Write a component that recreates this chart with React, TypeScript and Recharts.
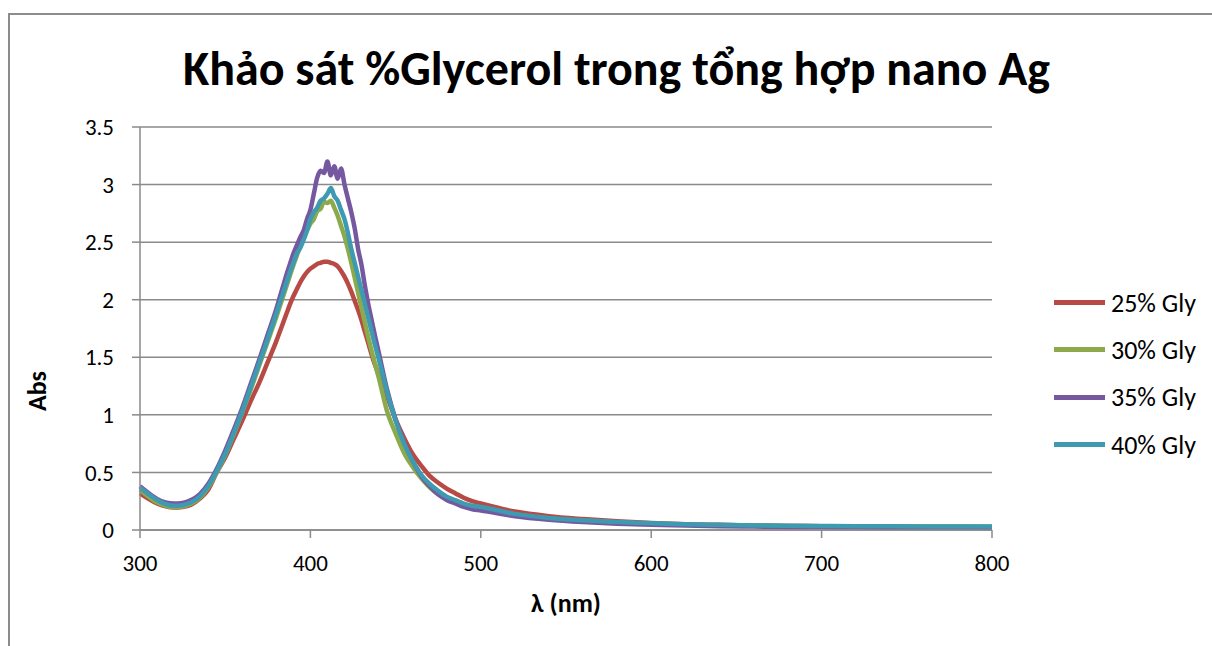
import React from 'react';
import { LineChart, Line, XAxis, YAxis, CartesianGrid } from 'recharts';

const wavelengths = [
  300, 305, 310, 315, 320, 325, 330, 335, 340, 345, 350, 355, 360, 365, 370, 375, 380,
  382, 384, 386, 388, 390, 392, 394, 396, 398, 400, 402, 404, 406, 408, 410, 412, 414,
  416, 418, 420, 422, 424, 426, 428, 430, 432, 434, 436, 438, 440,
  445, 450, 455, 460, 465, 470, 475, 480, 485, 490, 495, 500,
  520, 540, 560, 580, 600, 620, 640, 660, 680, 700, 720, 740, 760, 780, 800,
];

const gly25 = [
  0.32, 0.27, 0.23, 0.205, 0.195, 0.2, 0.22, 0.27, 0.35, 0.5, 0.63, 0.79, 0.95, 1.12, 1.28, 1.46, 1.64,
  1.72, 1.8, 1.88, 1.96, 2.03, 2.09, 2.15, 2.2, 2.24, 2.27, 2.29, 2.31, 2.32, 2.33, 2.33, 2.32, 2.31,
  2.29, 2.25, 2.2, 2.14, 2.07, 1.99, 1.91, 1.82, 1.72, 1.62, 1.52, 1.43, 1.35,
  1.16, 0.96, 0.8, 0.66, 0.56, 0.47, 0.41, 0.36, 0.32, 0.28, 0.25, 0.23,
  0.16, 0.12, 0.095, 0.075, 0.06, 0.05, 0.045, 0.04, 0.035, 0.033, 0.03, 0.03, 0.028, 0.028, 0.027,
];

const gly30 = [
  0.35, 0.29, 0.24, 0.21, 0.2, 0.205, 0.23, 0.28, 0.37, 0.5, 0.65, 0.83, 1.02, 1.22, 1.43, 1.64, 1.85,
  1.94, 2.03, 2.12, 2.21, 2.3, 2.38, 2.46, 2.53, 2.6, 2.66, 2.7, 2.77, 2.79, 2.85, 2.84, 2.86, 2.8,
  2.73, 2.64, 2.55, 2.44, 2.32, 2.19, 2.06, 1.93, 1.8, 1.67, 1.55, 1.44, 1.33,
  1.03, 0.84, 0.67, 0.55, 0.45, 0.37, 0.31, 0.27, 0.24, 0.21, 0.19, 0.18,
  0.13, 0.1, 0.08, 0.065, 0.055, 0.047, 0.042, 0.038, 0.035, 0.032, 0.03, 0.03, 0.028, 0.028, 0.028,
];

const gly35 = [
  0.38, 0.32, 0.27, 0.24, 0.23, 0.235, 0.26, 0.31, 0.4, 0.53, 0.69, 0.87, 1.06, 1.27, 1.48, 1.7, 1.92,
  2.02, 2.12, 2.22, 2.31, 2.4, 2.47, 2.54, 2.6, 2.7, 2.78, 2.92, 3.06, 3.12, 3.1, 3.2, 3.08, 3.16,
  3.05, 3.14, 3.0, 2.88, 2.76, 2.62, 2.44, 2.3, 2.12, 1.96, 1.82, 1.68, 1.55,
  1.22, 0.96, 0.76, 0.6, 0.47, 0.38, 0.31, 0.26, 0.23, 0.2, 0.18, 0.17,
  0.12, 0.09, 0.07, 0.055, 0.045, 0.038, 0.033, 0.03, 0.027, 0.025, 0.023, 0.02, 0.02, 0.02, 0.02,
];

const gly40 = [
  0.37, 0.31, 0.26, 0.225, 0.21, 0.215, 0.24, 0.29, 0.38, 0.51, 0.66, 0.84, 1.03, 1.24, 1.45, 1.66, 1.88,
  1.97, 2.06, 2.15, 2.24, 2.32, 2.4, 2.45, 2.52, 2.6, 2.7, 2.76, 2.8, 2.86, 2.88, 2.92, 2.97, 2.9,
  2.86, 2.78, 2.7, 2.58, 2.44, 2.32, 2.2, 2.08, 1.96, 1.84, 1.72, 1.6, 1.49,
  1.2, 0.95, 0.75, 0.6, 0.48, 0.4, 0.34, 0.29, 0.26, 0.23, 0.21, 0.2,
  0.14, 0.105, 0.085, 0.07, 0.058, 0.05, 0.045, 0.04, 0.037, 0.035, 0.033, 0.032, 0.031, 0.03, 0.03,
];

const xTicks = [300, 400, 500, 600, 700, 800];
const yTicks = [0, 0.5, 1, 1.5, 2, 2.5, 3, 3.5];

const series = [
  { key: 'g25', name: '25% Gly', color: '#B84A46' },
  { key: 'g30', name: '30% Gly', color: '#8DAA4B' },
  { key: 'g35', name: '35% Gly', color: '#7558A0' },
  { key: 'g40', name: '40% Gly', color: '#3E9AB1' },
];

const data = wavelengths.map((w, i) => ({
  w,
  g25: gly25[i],
  g30: gly30[i],
  g35: gly35[i],
  g40: gly40[i],
}));

const font = 'Carlito, Calibri, Lato, sans-serif';

export default function App() {
  return (
    <div style={{ position: 'fixed', left: 0, top: 0, width: 1212, height: 646, fontFamily: font, overflow: 'hidden', background: '#fff' }}>
      <div
        style={{
          position: 'absolute',
          left: 8,
          top: 13,
          width: 1400,
          height: 800,
          borderTop: '2px solid #8c8c8c',
          borderLeft: '2px solid #8c8c8c',
          boxSizing: 'border-box',
        }}
      />
      <div
        style={{
          position: 'absolute',
          left: 8,
          top: 41,
          width: 1204,
          paddingLeft: 13,
          boxSizing: 'border-box',
          textAlign: 'center',
          fontSize: 48,
          lineHeight: '56px',
          fontWeight: 'bold',
          color: '#000',
          whiteSpace: 'nowrap',
        }}
      >
        Khảo sát %Glycerol trong tổng hợp nano Ag
      </div>
      <div
        style={{
          position: 'absolute',
          left: 37,
          top: 391,
          transform: 'translate(-50%, -50%) rotate(-90deg)',
          fontSize: 26,
          fontWeight: 'bold',
          color: '#000',
          whiteSpace: 'nowrap',
        }}
      >
        Abs
      </div>
      <div style={{ position: 'absolute', left: 1054, top: 279, fontSize: 26, color: '#000' }}>
        {series.map((s) => (
          <div key={s.key} style={{ display: 'flex', alignItems: 'center', height: 47.3 }}>
            <div style={{ width: 51, height: 5, background: s.color, marginRight: 6 }} />
            <span>{s.name}</span>
          </div>
        ))}
      </div>
      <LineChart
        width={1204}
        height={630}
        data={data}
        margin={{ top: 119, right: 220, left: 0, bottom: 48 }}
        style={{ position: 'absolute', left: 8, top: 8 }}
      >
        <CartesianGrid vertical={false} stroke="#8a8a8a" strokeWidth={1.5} />
        <XAxis
          dataKey="w"
          type="number"
          domain={[300, 800]}
          ticks={xTicks}
          height={60}
          stroke="#8a8a8a"
          strokeWidth={1.5}
          tickSize={8}
          tickMargin={17}
          tick={{ fill: '#000', fontSize: 23, fontFamily: font }}
          label={{ value: 'λ (nm)', position: 'insideBottom', offset: -22, fill: '#000', fontSize: 26, fontWeight: 'bold', fontFamily: font }}
        />
        <YAxis
          type="number"
          domain={[0, 3.5]}
          ticks={yTicks}
          width={132}
          stroke="#8a8a8a"
          strokeWidth={1.5}
          tickSize={8}
          tickMargin={18}
          tick={{ fill: '#000', fontSize: 23, fontFamily: font }}
        />
        {series.map((s) => (
          <Line
            key={s.key}
            type="monotone"
            dataKey={s.key}
            name={s.name}
            stroke={s.color}
            strokeWidth={4.5}
            dot={false}
            isAnimationActive={false}
          />
        ))}
      </LineChart>
    </div>
  );
}
